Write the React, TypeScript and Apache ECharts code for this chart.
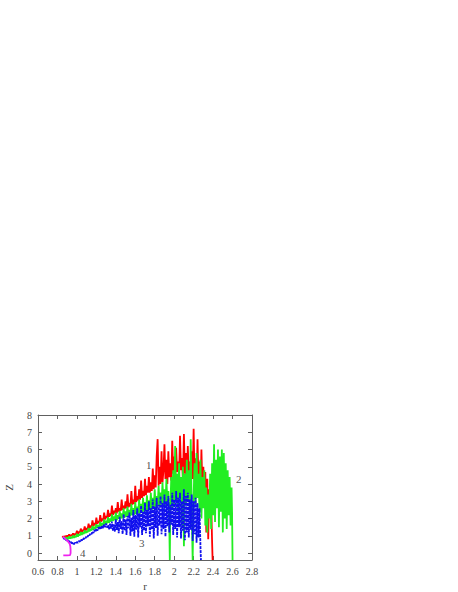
import React, { useEffect, useRef } from "react";
import * as echarts from "echarts";

const xTicks = [0.6, 0.8, 1, 1.2, 1.4, 1.6, 1.8, 2, 2.2, 2.4, 2.6, 2.8];
const yTicks = [0, 1, 2, 3, 4, 5, 6, 7, 8];

const series1: [number, number][] = [
  [0.85, 0.9], [0.86, 0.98], [0.87, 0.88], [0.88, 1.0], [0.89, 0.92], [0.9, 1.02], [0.91, 0.95], [0.92, 1.08], [0.93, 0.97], [0.94, 1.05],
  [0.95, 1.0], [0.96, 1.15], [0.97, 1.02], [0.98, 1.12], [0.99, 1.08], [1.0, 1.3], [1.01, 1.1], [1.02, 1.25], [1.03, 1.18], [1.04, 1.42],
  [1.05, 1.2], [1.06, 1.35], [1.07, 1.28], [1.08, 1.55], [1.09, 1.3], [1.1, 1.45], [1.11, 1.38], [1.12, 1.7], [1.13, 1.42], [1.14, 1.6],
  [1.15, 1.5], [1.16, 1.9], [1.17, 1.55], [1.18, 1.75], [1.19, 1.62], [1.2, 2.05], [1.21, 1.7], [1.22, 1.85], [1.23, 1.75], [1.24, 2.2],
  [1.25, 1.82], [1.26, 2.0], [1.27, 1.9], [1.28, 2.35], [1.29, 1.95], [1.3, 2.15], [1.31, 2.05], [1.32, 2.5], [1.33, 2.1], [1.34, 2.3],
  [1.35, 2.15], [1.36, 2.75], [1.37, 2.2], [1.38, 2.45], [1.39, 2.3], [1.4, 2.6], [1.41, 2.3], [1.42, 2.95], [1.43, 2.4], [1.44, 2.6],
  [1.45, 2.45], [1.46, 3.1], [1.47, 2.5], [1.48, 2.75], [1.49, 2.55], [1.5, 3.0], [1.51, 2.6], [1.52, 3.4], [1.53, 2.65], [1.54, 2.9],
  [1.55, 2.7], [1.56, 3.6], [1.57, 2.8], [1.58, 3.1], [1.59, 2.85], [1.6, 3.9], [1.61, 2.95], [1.62, 3.3], [1.63, 3.05], [1.64, 3.7],
  [1.65, 3.1], [1.66, 4.2], [1.67, 3.2], [1.68, 3.6], [1.69, 3.3], [1.7, 4.3], [1.71, 3.35], [1.72, 3.9], [1.73, 3.5], [1.74, 4.4],
  [1.75, 3.5], [1.76, 4.1], [1.77, 3.6], [1.78, 4.9], [1.79, 3.7], [1.8, 4.5], [1.81, 3.8], [1.82, 5.6], [1.83, 6.6], [1.84, 3.9],
  [1.85, 5.0], [1.86, 4.0], [1.87, 5.9], [1.88, 4.1], [1.89, 4.8], [1.9, 6.3], [1.91, 4.3], [1.92, 5.4], [1.93, 4.0], [1.94, 5.9],
  [1.95, 4.4], [1.96, 5.2], [1.97, 4.2], [1.98, 6.5], [1.99, 4.6], [2.0, 5.6], [2.01, 4.3], [2.02, 6.1], [2.03, 4.7], [2.04, 5.3],
  [2.05, 4.4], [2.06, 6.8], [2.07, 4.8], [2.08, 5.5], [2.09, 4.2], [2.1, 6.9], [2.11, 4.6], [2.12, 5.8], [2.13, 4.0], [2.14, 6.2],
  [2.15, 4.5], [2.16, 5.3], [2.17, 3.8], [2.18, 5.9], [2.19, 4.3], [2.2, 7.2], [2.21, 4.1], [2.22, 5.5], [2.23, 3.6], [2.24, 6.6],
  [2.25, 4.0], [2.26, 5.3], [2.27, 3.2], [2.28, 6.0], [2.29, 3.7], [2.3, 5.0], [2.31, 2.8], [2.32, 4.7], [2.33, 1.2], [2.34, 4.3],
  [2.35, 0.8], [2.36, 3.7], [2.37, 2.2], [2.38, 3.0], [2.39, 0.6], [2.395, -0.4],
];

const series2: [number, number][] = [
  [0.87, 0.85], [0.88, 0.92], [0.89, 0.82], [0.9, 0.9], [0.91, 0.8], [0.92, 0.97], [0.93, 0.84], [0.94, 0.93], [0.95, 0.86], [0.96, 1.02],
  [0.97, 0.88], [0.98, 1.0], [0.99, 0.92], [1.0, 1.12], [1.01, 0.95], [1.02, 1.08], [1.03, 1.02], [1.04, 1.22], [1.05, 1.05], [1.06, 1.2],
  [1.07, 1.1], [1.08, 1.32], [1.09, 1.15], [1.1, 1.28], [1.11, 1.2], [1.12, 1.45], [1.13, 1.25], [1.14, 1.4], [1.15, 1.3], [1.16, 1.58],
  [1.17, 1.35], [1.18, 1.52], [1.19, 1.42], [1.2, 1.68], [1.21, 1.45], [1.22, 1.62], [1.23, 1.5], [1.24, 1.82], [1.25, 1.55], [1.26, 1.75],
  [1.27, 1.62], [1.28, 1.95], [1.29, 1.65], [1.3, 1.88], [1.31, 1.72], [1.32, 2.08], [1.33, 1.75], [1.34, 2.0], [1.35, 1.82], [1.36, 2.25],
  [1.37, 1.85], [1.38, 2.12], [1.39, 1.9], [1.4, 2.35], [1.41, 1.9], [1.42, 2.2], [1.43, 1.98], [1.44, 2.45], [1.45, 2.0], [1.46, 2.3],
  [1.47, 2.02], [1.48, 2.6], [1.49, 2.05], [1.5, 2.42], [1.51, 2.1], [1.52, 2.7], [1.53, 2.12], [1.54, 2.5], [1.55, 2.15], [1.56, 2.85],
  [1.57, 2.2], [1.58, 2.6], [1.59, 2.22], [1.6, 2.95], [1.61, 2.25], [1.62, 2.7], [1.63, 2.3], [1.64, 3.1], [1.65, 2.3], [1.66, 2.85],
  [1.67, 2.35], [1.68, 3.2], [1.69, 2.4], [1.7, 2.95], [1.71, 2.4], [1.72, 3.35], [1.73, 2.45], [1.74, 3.05], [1.75, 2.5], [1.76, 3.5],
  [1.77, 2.5], [1.78, 3.2], [1.79, 2.6], [1.8, 3.7], [1.81, 2.6], [1.82, 3.3], [1.83, 2.7], [1.84, 3.9], [1.85, 2.7], [1.86, 3.5],
  [1.87, 2.8], [1.88, 4.1], [1.89, 2.8], [1.9, 3.7], [1.91, 2.6], [1.92, 4.3], [1.93, 2.9], [1.94, 3.6], [1.95, 1.5], [1.955, -0.4],
  [1.96, 2.5], [1.97, 4.4], [1.98, 2.6], [1.99, 4.8], [2.0, 2.8], [2.01, 6.2], [2.02, 3.0], [2.03, 4.6], [2.04, 2.4], [2.05, 5.2],
  [2.06, 3.2], [2.07, 4.4], [2.08, 1.6], [2.09, 5.0], [2.1, 0.4], [2.11, 4.6], [2.12, 2.8], [2.13, 5.4], [2.14, 3.0], [2.15, 4.8],
  [2.16, 2.2], [2.17, 6.6], [2.18, 2.6], [2.19, -0.4], [2.2, 3.4], [2.21, 5.2], [2.22, 2.8], [2.23, 5.8], [2.24, 3.2], [2.25, 4.6],
  [2.26, 2.4], [2.27, 5.4], [2.28, 2.0], [2.29, 4.4], [2.3, 2.6], [2.31, 4.8], [2.32, 1.6], [2.33, 3.8], [2.34, 1.2], [2.35, 3.4],
  [2.36, 2.0], [2.37, 4.6], [2.38, 1.4], [2.39, 5.2], [2.4, 2.2], [2.41, 6.3], [2.42, 1.8], [2.43, 5.4], [2.44, 2.6], [2.45, 6.0],
  [2.46, 1.5], [2.47, 5.6], [2.48, 2.4], [2.49, 6.0], [2.5, 1.2], [2.51, 5.8], [2.52, 2.0], [2.53, 5.2], [2.54, 1.4], [2.55, 4.8],
  [2.56, 2.2], [2.57, 4.4], [2.58, 1.6], [2.59, 3.8], [2.595, 2.4], [2.6, -0.4],
];

const series3: [number, number][] = [
  [0.86, 0.9], [0.87, 0.82], [0.88, 0.84], [0.89, 0.74], [0.9, 0.76], [0.91, 0.66], [0.92, 0.7], [0.93, 0.6], [0.94, 0.64], [0.95, 0.56],
  [0.96, 0.6], [0.97, 0.52], [0.98, 0.6], [0.99, 0.55], [1.0, 0.64], [1.01, 0.6], [1.02, 0.7], [1.03, 0.66], [1.04, 0.78], [1.05, 0.72],
  [1.06, 0.85], [1.07, 0.8], [1.08, 0.92], [1.09, 0.86], [1.1, 1.0], [1.11, 0.94], [1.12, 1.08], [1.13, 1.02], [1.14, 1.16], [1.15, 1.1],
  [1.16, 1.25], [1.17, 1.16], [1.18, 1.35], [1.19, 1.22], [1.2, 1.42], [1.21, 1.3], [1.22, 1.5], [1.23, 1.36], [1.24, 1.52], [1.25, 1.42],
  [1.26, 1.6], [1.27, 1.45], [1.28, 1.66], [1.29, 1.5], [1.3, 1.72], [1.31, 1.48], [1.32, 1.62], [1.33, 1.38], [1.34, 1.7], [1.35, 1.42],
  [1.36, 1.82], [1.37, 1.3], [1.38, 1.66], [1.39, 1.25], [1.4, 1.95], [1.41, 1.35], [1.42, 1.8], [1.43, 1.15], [1.44, 2.1], [1.45, 1.4],
  [1.46, 1.85], [1.47, 1.1], [1.48, 2.25], [1.49, 1.3], [1.5, 1.95], [1.51, 1.05], [1.52, 2.15], [1.53, 1.45], [1.54, 2.35], [1.55, 1.0],
  [1.56, 2.05], [1.57, 1.25], [1.58, 2.5], [1.59, 0.95], [1.6, 2.2], [1.61, 1.35], [1.62, 2.6], [1.63, 0.9], [1.64, 2.3], [1.65, 1.5],
  [1.66, 2.75], [1.67, 1.05], [1.68, 2.4], [1.69, 1.3], [1.7, 2.9], [1.71, 1.15], [1.72, 2.5], [1.73, 1.55], [1.74, 3.0], [1.75, 0.95],
  [1.76, 2.6], [1.77, 1.35], [1.78, 3.1], [1.79, 0.85], [1.8, 2.7], [1.81, 1.45], [1.82, 3.2], [1.83, 1.0], [1.84, 2.8], [1.85, 1.6],
  [1.86, 3.3], [1.87, 1.1], [1.88, 2.9], [1.89, 1.4], [1.9, 3.4], [1.91, 0.95], [1.92, 3.0], [1.93, 1.55], [1.94, 3.3], [1.95, 1.2],
  [1.96, 2.8], [1.97, 1.65], [1.98, 3.5], [1.99, 1.05], [2.0, 3.1], [2.01, 1.4], [2.02, 3.6], [2.03, 0.9], [2.04, 3.2], [2.05, 1.5],
  [2.06, 3.5], [2.07, 0.85], [2.08, 3.0], [2.09, 1.3], [2.1, 3.7], [2.11, 0.75], [2.12, 3.3], [2.13, 1.2], [2.14, 3.5], [2.15, 0.9],
  [2.16, 3.1], [2.17, 1.35], [2.18, 3.4], [2.19, 0.7], [2.2, 3.0], [2.21, 1.1], [2.22, 3.2], [2.23, 0.6], [2.24, 2.9], [2.25, 0.9],
  [2.26, 2.6], [2.27, 0.4], [2.275, -0.4],
];

const series4: [number, number][] = [
  [0.857, 0.95], [0.87, 0.88], [0.89, 0.78], [0.91, 0.66], [0.925, 0.55], [0.932, 0.4], [0.935, 0.2], [0.935, 0.0],
  [0.93, -0.12], [0.9, -0.13], [0.86, -0.13],
];

const curveLabels: { name: string; value: [number, number] }[] = [
  { name: "1", value: [1.739, 5.09] },
  { name: "2", value: [2.665, 4.29] },
  { name: "3", value: [1.667, 0.57] },
  { name: "4", value: [1.06, 0.0] },
];

const FONT = "serif";
const AXIS_COLOR = "#606060";
const TEXT_COLOR = "#444444";

export default function App() {
  const ref = useRef<HTMLDivElement>(null);
  useEffect(() => {
    if (!ref.current) return;
    const chart = echarts.init(ref.current, null, { renderer: "svg" });
    const tick = { show: true, inside: true, length: 4, lineStyle: { color: AXIS_COLOR } };
    const line = { show: true, onZero: false, lineStyle: { color: AXIS_COLOR, width: 1 } };
    chart.setOption({
      animation: false,
      backgroundColor: "#ffffff",
      textStyle: { fontFamily: FONT },
      grid: { left: 38, right: 206, top: 415, bottom: 30, containLabel: false },
      xAxis: [
        {
          type: "value",
          min: 0.6,
          max: 2.8,
          interval: 0.2,
          position: "bottom",
          axisLine: line,
          splitLine: { show: false },
          name: "r",
          nameLocation: "middle",
          nameGap: 20,
          nameTextStyle: { fontFamily: FONT, fontSize: 11, color: TEXT_COLOR },
          axisLabel: {
            fontFamily: FONT,
            fontSize: 10,
            color: TEXT_COLOR,
            margin: 6,
            customValues: xTicks,
            formatter: (v: number) => String(Math.round(v * 10) / 10),
          },
          axisTick: { ...tick, customValues: xTicks },
        },
        {
          type: "value",
          min: 0.6,
          max: 2.8,
          interval: 0.2,
          position: "top",
          axisLine: line,
          splitLine: { show: false },
          axisLabel: { show: false },
          axisTick: { ...tick, customValues: xTicks },
        },
      ],
      yAxis: [
        {
          type: "value",
          min: -0.4,
          max: 8,
          position: "left",
          axisLine: line,
          splitLine: { show: false },
          name: "Z",
          nameLocation: "middle",
          nameGap: 24,
          nameRotate: 90,
          nameTextStyle: { fontFamily: FONT, fontSize: 11, color: TEXT_COLOR },
          axisLabel: { fontFamily: FONT, fontSize: 10, color: TEXT_COLOR, margin: 6, customValues: yTicks },
          axisTick: { ...tick, customValues: yTicks },
        },
        {
          type: "value",
          min: -0.4,
          max: 8,
          position: "right",
          axisLine: line,
          splitLine: { show: false },
          axisLabel: { show: false },
          axisTick: { ...tick, customValues: yTicks },
        },
      ],
      series: [
        { type: "line", data: series1, showSymbol: false, lineStyle: { color: "#ff0000", width: 1.8 }, z: 2 },
        { type: "line", data: series2, showSymbol: false, lineStyle: { color: "#22ee22", width: 1.8 }, z: 3 },
        { type: "line", data: series3, showSymbol: false, lineStyle: { color: "#1010ee", width: 1.8, type: [3, 1] }, z: 4 },
        { type: "line", data: series4, showSymbol: false, lineStyle: { color: "#ee22ee", width: 1.8 }, z: 5 },
        {
          type: "scatter",
          data: curveLabels,
          symbolSize: 0,
          z: 10,
          itemStyle: { color: "#222222" },
          label: {
            show: true,
            position: "inside",
            formatter: (p: any) => p.name,
            fontFamily: FONT,
            fontSize: 11,
            color: "#222222",
          },
        },
      ],
    });
    return () => chart.dispose();
  }, []);
  return (
    <div
      ref={ref}
      style={{ position: "absolute", left: 0, top: 0, width: 458, height: 592 }}
    />
  );
}
